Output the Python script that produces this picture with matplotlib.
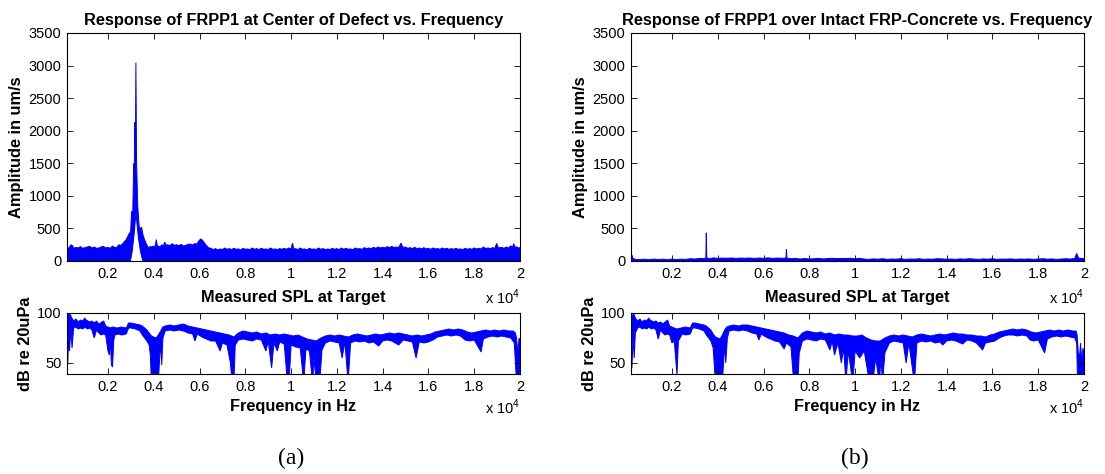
import numpy as np
import matplotlib
matplotlib.use("Agg")
import matplotlib.pyplot as plt

plt.rcParams['font.family'] = ['Liberation Sans', 'DejaVu Sans']
plt.rcParams['mathtext.fontset'] = 'custom'
plt.rcParams['mathtext.rm'] = 'Liberation Sans'

BLUE = '#0000FF'

# Frequency axis (Hz), labelled in units of 10^4 Hz
freq_ticks = [2000, 4000, 6000, 8000, 10000, 12000, 14000, 16000, 18000, 20000]
freq_tick_labels = ['0.2', '0.4', '0.6', '0.8', '1', '1.2', '1.4', '1.6', '1.8', '2']
amp_ticks = [0, 500, 1000, 1500, 2000, 2500, 3000, 3500]
spl_ticks = [50, 100]

titles = ['Response of FRPP1 at Center of Defect vs. Frequency',
          'Response of FRPP1 over Intact FRP-Concrete vs. Frequency']
panel_tags = ['(a)', '(b)']

# Velocity spectrum over the defect (um/s): upper and lower edges of the trace
defect_amp_upper = [
    (210, 240), (260, 195), (300, 200), (380, 250), (450, 235), (520, 195), (600, 210),
    (700, 200), (800, 220), (900, 195), (1000, 205), (1100, 215), (1200, 225),
    (1300, 200), (1400, 215), (1500, 195), (1600, 200), (1700, 215), (1800, 225),
    (1900, 200), (2000, 210), (2100, 195), (2200, 230), (2300, 205), (2400, 215),
    (2480, 250), (2550, 240), (2620, 255), (2700, 290), (2800, 330), (2925, 420),
    (2990, 450), (3033, 765), (3080, 700), (3126, 1495), (3150, 1400), (3173, 2130),
    (3200, 1800), (3220, 3046), (3250, 1510), (3300, 850), (3360, 540), (3420, 480),
    (3470, 520), (3530, 400), (3595, 330), (3680, 260), (3780, 195), (3850, 225),
    (3900, 215), (4000, 230), (4060, 210), (4110, 330), (4160, 220), (4200, 230),
    (4280, 215), (4350, 250), (4420, 230), (4480, 290), (4540, 240), (4600, 250),
    (4700, 235), (4800, 265), (4900, 240), (5000, 250), (5100, 235), (5200, 255),
    (5300, 230), (5400, 240), (5500, 255), (5600, 260), (5700, 245), (5800, 270),
    (5880, 255), (5950, 300), (6050, 340), (6150, 310), (6250, 260), (6350, 220),
    (6420, 200), (6500, 195), (6600, 175), (6700, 190), (6800, 170), (6900, 185),
    (7000, 175), (7100, 200), (7200, 180), (7300, 190), (7400, 175), (7500, 195),
    (7600, 180), (7700, 185), (7800, 170), (7900, 195), (8000, 180), (8100, 185),
    (8200, 175), (8300, 200), (8400, 180), (8500, 190), (8600, 175), (8700, 195),
    (8800, 180), (8900, 185), (9000, 175), (9100, 200), (9200, 180), (9300, 185),
    (9400, 175), (9500, 190), (9600, 180), (9700, 195), (9800, 180), (9900, 200),
    (10000, 185), (10060, 275), (10120, 185), (10200, 190), (10300, 175), (10400, 200),
    (10500, 180), (10600, 185), (10700, 170), (10800, 195), (10900, 180), (11000, 185),
    (11100, 175), (11200, 200), (11300, 180), (11400, 190), (11500, 175), (11600, 185),
    (11700, 175), (11800, 195), (11900, 180), (12000, 190), (12100, 175), (12200, 200),
    (12300, 180), (12400, 195), (12500, 180), (12600, 185), (12700, 175), (12800, 200),
    (12900, 185), (13000, 190), (13100, 180), (13200, 205), (13300, 190), (13400, 200),
    (13500, 190), (13600, 210), (13700, 195), (13800, 215), (13900, 200), (14000, 210),
    (14100, 200), (14200, 220), (14300, 205), (14400, 225), (14500, 205), (14600, 215),
    (14700, 205), (14800, 275), (14880, 210), (15000, 215), (15100, 195), (15200, 205),
    (15300, 190), (15400, 210), (15500, 190), (15600, 200), (15700, 185), (15800, 205),
    (15900, 185), (16000, 195), (16100, 180), (16200, 200), (16300, 185), (16400, 190),
    (16500, 180), (16600, 200), (16700, 185), (16800, 195), (16900, 180), (17000, 190),
    (17100, 180), (17200, 195), (17300, 180), (17400, 185), (17500, 175), (17600, 195),
    (17700, 180), (17800, 190), (17900, 180), (18000, 200), (18100, 185), (18200, 195),
    (18300, 185), (18400, 215), (18500, 190), (18600, 200), (18700, 190), (18800, 205),
    (18900, 195), (18980, 270), (19060, 200), (19200, 210), (19300, 195), (19400, 215),
    (19500, 200), (19600, 235), (19660, 205), (19730, 265), (19790, 205), (19850, 220),
    (19930, 195), (20000, 210)]
defect_amp_lower = [
    (210, 0), (2980, 0), (3060, 150), (3140, 400), (3200, 650), (3225, 760),
    (3260, 600), (3330, 350), (3420, 150), (3520, 0), (20000, 0)]

# Velocity spectrum over intact FRP-concrete (um/s)
intact_amp_upper = [
    (210, 60), (250, 92), (300, 40), (400, 25), (600, 20), (800, 28), (1000, 20),
    (1200, 30), (1400, 22), (1600, 28), (1800, 20), (2000, 30), (2200, 22), (2400, 28),
    (2600, 25), (2800, 35), (3000, 30), (3200, 40), (3400, 38), (3480, 45), (3500, 433),
    (3520, 45), (3650, 35), (3800, 48), (4000, 40), (4200, 45), (4400, 42), (4600, 46),
    (4800, 40), (5000, 45), (5200, 42), (5400, 46), (5600, 40), (5800, 45), (6000, 42),
    (6200, 48), (6400, 40), (6600, 45), (6800, 42), (6980, 45), (7000, 178), (7020, 45),
    (7200, 35), (7400, 40), (7600, 30), (7800, 38), (8000, 30), (8200, 35), (8400, 40),
    (8600, 32), (8800, 38), (9000, 42), (9200, 36), (9400, 40), (9600, 38), (9800, 42),
    (10000, 36), (10200, 40), (10400, 30), (10600, 25), (10800, 32), (11000, 28),
    (11200, 35), (11400, 25), (11600, 30), (11800, 28), (12000, 35), (12200, 25),
    (12400, 30), (12600, 28), (12800, 35), (13000, 25), (13200, 30), (13400, 28),
    (13600, 35), (13800, 32), (14000, 28), (14200, 30), (14400, 25), (14600, 32),
    (14800, 28), (15000, 35), (15200, 30), (15400, 25), (15600, 32), (15800, 28),
    (16000, 35), (16200, 25), (16400, 30), (16600, 28), (16800, 32), (17000, 25),
    (17200, 30), (17400, 28), (17600, 32), (17800, 25), (18000, 30), (18200, 35),
    (18400, 28), (18600, 32), (18800, 25), (19000, 30), (19200, 35), (19400, 30),
    (19600, 40), (19680, 117), (19760, 45), (20000, 35)]
intact_amp_lower = [(210, 0), (20000, 0)]

# Sound pressure level at the target (dB re 20 uPa), run (a)
spl_a_upper = [
    (210, 100), (260, 97), (320, 100), (400, 96), (500, 92), (600, 94), (700, 91),
    (800, 93), (900, 92), (980, 95), (1050, 93), (1200, 91), (1300, 92), (1400, 90),
    (1500, 92), (1600, 89), (1810, 92), (1900, 87), (2000, 86), (2100, 85), (2200, 86),
    (2400, 85), (2600, 86), (2800, 85), (2900, 90), (3000, 90), (3200, 89), (3400, 88),
    (3500, 87), (3600, 85), (3700, 83), (3800, 80), (3900, 77), (4000, 76), (4100, 75),
    (4200, 78), (4300, 82), (4400, 86), (4500, 87), (4700, 88), (4900, 87), (5100, 88),
    (5300, 89), (5500, 87), (5700, 86), (5900, 85), (6100, 84), (6300, 83), (6500, 82),
    (6700, 81), (6900, 80), (7100, 79), (7300, 78), (7500, 76), (7700, 80), (7900, 82),
    (8100, 81), (8300, 80), (8500, 81), (8700, 79), (8900, 80), (9100, 78), (9300, 79),
    (9500, 78), (9700, 79), (9900, 78), (10100, 77), (10300, 78), (10500, 76),
    (10700, 74), (10900, 73), (11100, 72), (11300, 75), (11500, 77), (11700, 78),
    (11900, 77), (12100, 78), (12300, 77), (12500, 76), (12700, 78), (12900, 79),
    (13100, 78), (13300, 77), (13500, 78), (13700, 79), (13900, 78), (14100, 79),
    (14300, 80), (14500, 79), (14700, 80), (14900, 79), (15100, 78), (15300, 77),
    (15500, 78), (15700, 77), (15900, 78), (16100, 79), (16300, 81), (16500, 82),
    (16700, 83), (16900, 84), (17100, 83), (17300, 84), (17500, 83), (17700, 81),
    (17900, 80), (18100, 81), (18300, 82), (18500, 83), (18700, 82), (18900, 83),
    (19100, 82), (19300, 83), (19500, 82), (19700, 82), (19800, 80), (19850, 75),
    (19900, 60), (19960, 75), (20000, 72)]
spl_a_lower = [
    (210, 70), (240, 48), (280, 75), (320, 62), (380, 85), (430, 65), (500, 85),
    (600, 86), (700, 84), (800, 85), (900, 84), (1000, 86), (1100, 84), (1200, 85),
    (1300, 83), (1400, 75), (1500, 83), (1600, 80), (1700, 78), (1800, 79), (1900, 78),
    (2000, 62), (2060, 58), (2100, 74), (2150, 48), (2200, 46), (2250, 72), (2300, 78),
    (2450, 79), (2600, 78), (2800, 79), (2900, 85), (3000, 85), (3200, 84), (3400, 82),
    (3500, 78), (3600, 75), (3700, 72), (3800, 68), (3850, 58), (3900, 30), (4000, 30),
    (4100, 30), (4200, 30), (4250, 52), (4300, 70), (4350, 48), (4400, 75), (4500, 82),
    (4700, 83), (4900, 82), (5100, 83), (5300, 82), (5500, 80), (5700, 79), (5800, 72),
    (5900, 79), (6100, 76), (6300, 74), (6500, 72), (6700, 72), (6900, 62), (7000, 70),
    (7200, 68), (7350, 50), (7420, 30), (7500, 30), (7560, 68), (7700, 73), (7900, 74),
    (8100, 73), (8300, 72), (8500, 74), (8700, 73), (8900, 62), (9000, 72), (9150, 45),
    (9250, 70), (9400, 62), (9500, 71), (9700, 69), (9840, 30), (9910, 30), (10000, 68),
    (10200, 66), (10400, 65), (10550, 30), (10650, 64), (10800, 62), (10940, 30),
    (11000, 55), (11100, 30), (11250, 30), (11350, 63), (11500, 70), (11700, 72),
    (11900, 71), (12100, 70), (12230, 55), (12350, 71), (12490, 30), (12600, 70),
    (12800, 72), (13000, 71), (13200, 72), (13400, 70), (13600, 71), (13830, 67),
    (14000, 72), (14200, 73), (14400, 72), (14700, 68), (14900, 73), (15100, 72),
    (15300, 71), (15460, 55), (15600, 71), (15800, 70), (16000, 71), (16200, 73),
    (16400, 76), (16600, 77), (16800, 78), (17000, 77), (17200, 78), (17400, 77),
    (17600, 73), (17800, 72), (18000, 73), (18300, 61), (18400, 74), (18600, 76),
    (18800, 77), (19000, 76), (19200, 77), (19400, 76), (19600, 75), (19750, 70),
    (19850, 30), (20000, 30)]

# Sound pressure level at the target (dB re 20 uPa), run (b)
spl_b_upper = [
    (210, 100), (260, 96), (320, 100), (400, 95), (500, 92), (600, 94), (700, 91),
    (800, 93), (900, 92), (980, 95), (1050, 93), (1200, 91), (1300, 92), (1400, 90),
    (1500, 91), (1600, 89), (1810, 93), (1900, 87), (2000, 86), (2100, 85), (2200, 84),
    (2400, 85), (2600, 86), (2800, 85), (2900, 90), (3000, 90), (3200, 89), (3400, 88),
    (3500, 87), (3600, 85), (3700, 83), (3800, 79), (3900, 76), (4000, 75), (4100, 74),
    (4200, 78), (4300, 83), (4400, 86), (4500, 87), (4700, 88), (4900, 87), (5100, 88),
    (5300, 88), (5500, 87), (5700, 86), (5900, 85), (6100, 84), (6300, 83), (6500, 82),
    (6700, 81), (6900, 80), (7100, 78), (7300, 77), (7500, 75), (7700, 80), (7900, 82),
    (8100, 81), (8300, 80), (8500, 81), (8700, 79), (8900, 80), (9100, 78), (9300, 79),
    (9500, 78), (9700, 78), (9900, 77), (10100, 77), (10300, 78), (10500, 75),
    (10700, 73), (10900, 72), (11100, 72), (11300, 75), (11500, 77), (11700, 78),
    (11900, 77), (12100, 78), (12300, 77), (12500, 76), (12700, 78), (12900, 79),
    (13100, 78), (13300, 77), (13500, 78), (13700, 79), (13900, 78), (14100, 79),
    (14300, 80), (14500, 79), (14700, 79), (14900, 78), (15100, 78), (15300, 77),
    (15500, 77), (15700, 76), (15900, 78), (16100, 79), (16300, 81), (16500, 82),
    (16700, 83), (16900, 84), (17100, 83), (17300, 84), (17500, 83), (17700, 81),
    (17900, 80), (18100, 81), (18300, 82), (18500, 83), (18700, 82), (18900, 83),
    (19100, 82), (19300, 83), (19500, 82), (19650, 82), (19700, 78), (19750, 60),
    (19800, 55), (19850, 70), (19900, 50), (19950, 65), (20000, 60)]
spl_b_lower = [
    (210, 60), (250, 45), (300, 75), (350, 55), (400, 80), (500, 85), (600, 86),
    (700, 84), (800, 85), (900, 84), (1000, 86), (1100, 84), (1200, 85), (1300, 83),
    (1400, 74), (1500, 83), (1600, 80), (1700, 78), (1800, 79), (1900, 78), (2000, 70),
    (2100, 72), (2220, 38), (2280, 72), (2450, 79), (2600, 78), (2800, 79), (2900, 85),
    (3000, 85), (3200, 84), (3400, 82), (3500, 78), (3600, 75), (3700, 72), (3800, 65),
    (3900, 30), (4000, 30), (4100, 30), (4200, 30), (4300, 68), (4350, 50), (4420, 75),
    (4500, 82), (4700, 83), (4900, 82), (5100, 83), (5300, 82), (5500, 80), (5700, 79),
    (5800, 73), (5900, 79), (6100, 76), (6300, 74), (6500, 72), (6700, 71), (6900, 64),
    (7000, 70), (7200, 66), (7320, 30), (7500, 30), (7560, 60), (7700, 72), (7900, 74),
    (8100, 73), (8300, 72), (8500, 74), (8700, 73), (8900, 63), (9000, 72), (9100, 58),
    (9250, 70), (9400, 50), (9500, 65), (9600, 30), (9700, 62), (9900, 30), (10000, 62),
    (10200, 55), (10400, 62), (10630, 30), (10770, 30), (10900, 55), (11060, 30),
    (11130, 55), (11200, 30), (11300, 60), (11500, 70), (11700, 72), (11900, 71),
    (12100, 70), (12230, 50), (12350, 70), (12590, 30), (12700, 70), (12900, 72),
    (13100, 71), (13300, 72), (13500, 70), (13700, 71), (13830, 68), (14000, 72),
    (14200, 73), (14400, 72), (14700, 69), (14900, 73), (15100, 72), (15300, 70),
    (15570, 63), (15700, 70), (15900, 71), (16100, 72), (16300, 75), (16500, 77),
    (16700, 78), (16900, 78), (17100, 77), (17300, 78), (17500, 77), (17650, 73),
    (17800, 72), (18000, 73), (18280, 60), (18400, 74), (18600, 76), (18800, 77),
    (19000, 76), (19200, 77), (19400, 76), (19600, 75), (19680, 70), (19720, 30),
    (20000, 30)]


def draw_trace(ax, upper, lower):
    """Fill the region swept by a dense spectrum trace between its edges."""
    up = np.array(upper, dtype=float)
    lo = np.array(lower, dtype=float)[::-1]
    xs = np.concatenate([up[:, 0], lo[:, 0]])
    ys = np.concatenate([up[:, 1], lo[:, 1]])
    ax.fill(xs, ys, facecolor=BLUE, edgecolor=BLUE, linewidth=0.7)


def style_axes(ax, yticks, ylim, offset_px):
    ax.set_xlim(210, 20000)
    ax.set_ylim(*ylim)
    ax.set_xticks(freq_ticks)
    ax.set_xticklabels(freq_tick_labels)
    ax.set_yticks(yticks)
    ax.tick_params(direction='in', top=True, right=True, length=4, width=0.6,
                   labelsize=10.5, pad=4, colors='black')
    for s in ax.spines.values():
        s.set_linewidth(0.8)
    ax.annotate(r'x 10$^{4}$', xy=(1, 0), xycoords='axes fraction',
                xytext=(0, -offset_px), textcoords='offset pixels',
                ha='right', va='center', fontsize=10.5)


fig = plt.figure(figsize=(11.05, 4.74), dpi=100)
W, H = 1105, 474

def place(x0, x1, y0, y1):
    return fig.add_axes([x0 / W, 1 - y1 / H, (x1 - x0) / W, (y1 - y0) / H])

lefts = [67, 631]
amp_data = [(defect_amp_upper, defect_amp_lower), (intact_amp_upper, intact_amp_lower)]
spl_data = [(spl_a_upper, spl_a_lower), (spl_b_upper, spl_b_lower)]

LABEL_SIZE = 11.8

for i, x0 in enumerate(lefts):
    x1 = x0 + 453
    ax_top = place(x0, x1, 33, 261)
    draw_trace(ax_top, *amp_data[i])
    style_axes(ax_top, amp_ticks, (0, 3500), 36)
    ax_top.set_title(titles[i], fontsize=LABEL_SIZE, fontweight='bold', pad=6)
    ax_top.set_ylabel('Amplitude in um/s', fontsize=LABEL_SIZE, fontweight='bold',
                      labelpad=3)

    ax_bot = place(x0, x1, 313, 374)
    draw_trace(ax_bot, *spl_data[i])
    style_axes(ax_bot, spl_ticks, (39, 100), 33)
    ax_bot.set_title('Measured SPL at Target', fontsize=LABEL_SIZE, fontweight='bold',
                     pad=8)
    ax_bot.set_ylabel('dB re 20uPa', fontsize=LABEL_SIZE, fontweight='bold', labelpad=3)
    ax_bot.set_xlabel('Frequency in Hz', fontsize=LABEL_SIZE, fontweight='bold',
                      labelpad=4)

    fig.text((x0 + 224) / W, 1 - 458 / H, panel_tags[i], ha='center', va='center',
             fontsize=17, family='Liberation Serif')

fig.savefig('out.png', dpi=100)
